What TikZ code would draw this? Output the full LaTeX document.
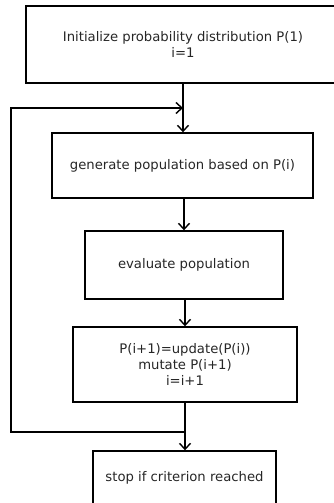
\documentclass[tikz,border=0pt]{standalone}
\usepackage{fontspec}
\setmainfont{DejaVu Sans}
\usetikzlibrary{arrows.meta}

\begin{document}
\begin{tikzpicture}[x=1pt, y=-1pt,
  box/.style={draw, line width=1.4pt, rectangle, align=center, text=black!85,
    font=\fontsize{13.2}{16}\selectfont, inner sep=0pt},
  arr/.style={line width=1.4pt, -{Straight Barb[length=6pt, width=11pt, line width=1.4pt]}}]
  \useasboundingbox (0,0) rectangle (334,503);

  % Nodes
  \node[box, minimum width=314, minimum height=77] (init) at (183, 44.5)
    {Initialize probability distribution P(1)\\i=1};
  \node[box, minimum width=261, minimum height=65] (gen) at (182.5, 165.5)
    {generate population based on P(i)};
  \node[box, minimum width=198, minimum height=68] (eval) at (184, 265)
    {evaluate population};
  \node[box, minimum width=224, minimum height=75] (upd) at (185, 364.5)
    {P(i+1)=update(P(i))\\mutate P(i+1)\\i=i+1};
  \node[box, minimum width=183, minimum height=53] (stop) at (184.5, 477.5)
    {stop if criterion reached};

  % Coordinates
  \coordinate (join) at (183, 108);
  \coordinate (merge) at (185, 432);
  \coordinate (LB) at (11, 432);
  \coordinate (LT) at (11, 108);

  % Drawing
  \draw[arr] (init.south) -- (init.south |- gen.north);
  \draw[arr] (gen.south -| eval.north) -- (eval.north);
  \draw[arr] (eval.south -| upd.north) -- (upd.north);
  \draw[arr] (upd.south) -- (upd.south |- stop.north);
  \draw[arr] (merge) -- (LB) -- (LT) -- (join);
\end{tikzpicture}
\end{document}
